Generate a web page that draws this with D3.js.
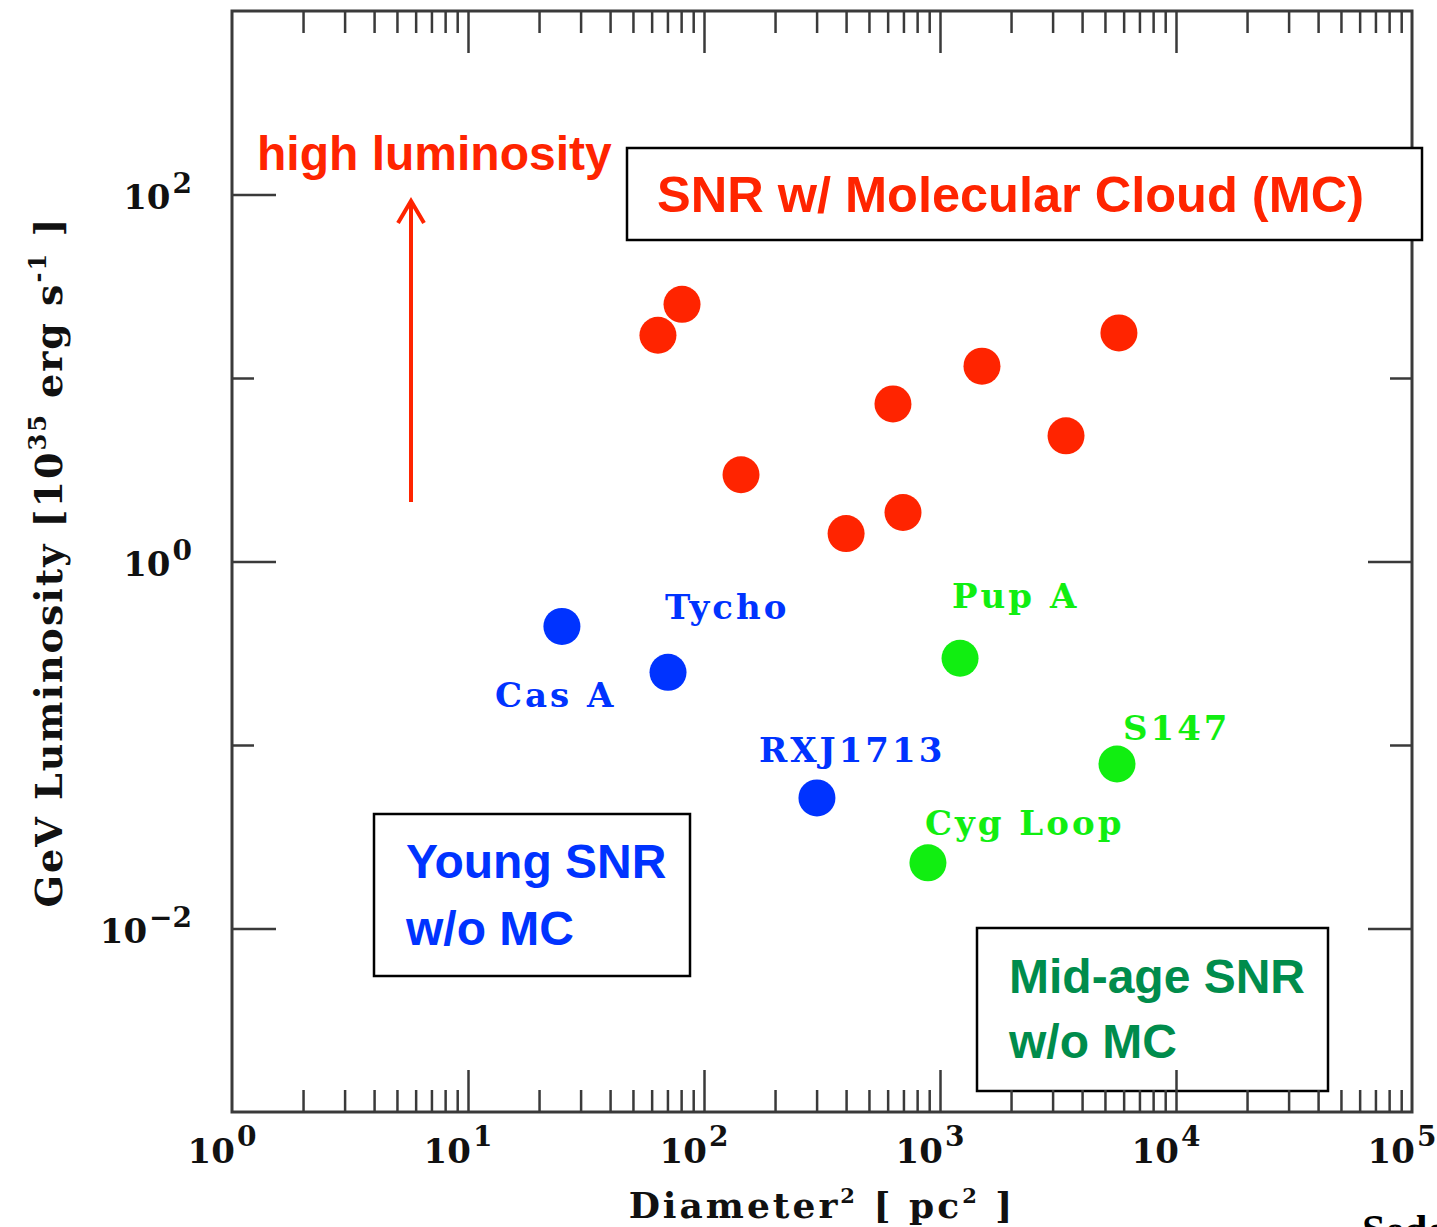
<!DOCTYPE html>
<html lang="en">
<head>
<meta charset="utf-8">
<script src="https://d3js.org/d3.v7.min.js"></script>
<style>
  body { margin: 0; background: #fff; }
  svg { display: block; }
  .pg { font-family: "DejaVu Serif", serif; font-weight: bold; }
  .sans { font-family: "Liberation Sans", Arial, sans-serif; font-weight: bold; }
</style>
</head>
<body>
<svg id="chart" width="1437" height="1227"></svg>
<script>
// SNRs interacting with molecular clouds (no labels)
var mcDiam2 = [63.8, 80.7, 143.5, 400, 632, 697, 1506, 3420, 5730];
var mcLum   = [17.1, 25.2, 2.97, 1.42, 7.22, 1.85, 11.6, 4.84, 17.6];

// young SNRs without MC
var youngNames = ["Cas A", "Tycho", "RXJ1713"];
var youngDiam2 = [25.0, 70.4, 301];
var youngLum   = [0.443, 0.249, 0.0515];

// mid-age SNRs without MC
var midNames = ["Pup A", "S147", "Cyg Loop"];
var midDiam2 = [1216, 5623, 889];
var midLum   = [0.297, 0.0788, 0.0228];

var xDecades = [0, 1, 2, 3, 4, 5];
var yDecades = [-3, -2, -1, 0, 1, 2, 3];

var svg = d3.select("#chart");
var pLeft = 232, pRight = 1412, pTop = 11, pBottom = 1112;

var x = d3.scaleLog().domain([1, 1e5]).range([pLeft, pRight]);
var y = d3.scaleLog().domain([1e-3, 1e3]).range([pBottom, pTop]);

var red = "#ff2400", blue = "#0033ff", lime = "#11ee11", green = "#008c4c";
var axisCol = "#3a3a3a";

// ---- frame and y ticks
svg.append("rect")
    .attr("x", pLeft).attr("y", pTop)
    .attr("width", pRight - pLeft).attr("height", pBottom - pTop)
    .attr("fill", "none").attr("stroke", axisCol).attr("stroke-width", 3);

var yTickVals = yDecades.slice(1, -1).map(function (e) { return Math.pow(10, e); });

function yTicks(axisFn, xpos) {
    var g = svg.append("g")
        .attr("transform", "translate(" + xpos + ",0)")
        .call(axisFn(y).tickValues(yTickVals).tickFormat(""));
    g.select(".domain").remove();
    g.selectAll(".tick line")
        .attr("stroke", axisCol).attr("stroke-width", 2.5)
        .attr("x2", function (d) {
            var big = Math.round(Math.log10(d)) % 2 === 0;
            var len = big ? 44 : 22;
            return axisFn === d3.axisLeft ? len : -len;
        });
}
yTicks(d3.axisLeft, pLeft);
yTicks(d3.axisRight, pRight);

// y labels
var yLab = svg.append("g").attr("class", "pg");
yDecades.filter(function (e) { return e % 2 === 0 && Math.abs(e) < 3; }).forEach(function (e) {
    var t = yLab.append("text")
        .attr("x", 192).attr("y", y(Math.pow(10, e)) + 14)
        .attr("text-anchor", "end").attr("fill", "#111").attr("font-size", 34);
    t.append("tspan").text("10");
    t.append("tspan").attr("dy", -16).attr("dx", 2).attr("font-size", 28)
        .text(e < 0 ? "\u2212" + (-e) : String(e));
});

// ---- boxes (drawn before x ticks so ticks sit on top)
function box(x0, y0, x1, y1) {
    svg.append("rect")
        .attr("x", x0).attr("y", y0).attr("width", x1 - x0).attr("height", y1 - y0)
        .attr("fill", "#fff").attr("stroke", "#000").attr("stroke-width", 2.5);
}
box(627, 148, 1422, 240);
box(374, 814, 690, 976);
box(977, 928, 1328, 1091);

// ---- x ticks, bottom and top
var xTickVals = [];
xDecades.forEach(function (e) {
    for (var m = 1; m <= 9; m++) {
        var v = m * Math.pow(10, e);
        if (v > 1 && v < 1e5) xTickVals.push(v);
    }
});

function xTicks(axisFn, ypos) {
    var g = svg.append("g")
        .attr("transform", "translate(0," + ypos + ")")
        .call(axisFn(x).tickValues(xTickVals).tickFormat(""));
    g.select(".domain").remove();
    g.selectAll(".tick line")
        .attr("stroke", axisCol).attr("stroke-width", 2.5)
        .attr("y2", function (d) {
            var l10 = Math.log10(d);
            var len = Math.abs(l10 - Math.round(l10)) < 1e-9 ? 42 : 22;
            return axisFn === d3.axisBottom ? -len : len;
        });
}
xTicks(d3.axisBottom, pBottom);
xTicks(d3.axisTop, pTop);

var xLab = svg.append("g").attr("class", "pg");
xDecades.forEach(function (e) {
    var t = xLab.append("text")
        .attr("x", x(Math.pow(10, e)) - 10).attr("y", 1163)
        .attr("text-anchor", "middle").attr("fill", "#111").attr("font-size", 34);
    t.append("tspan").text("10");
    t.append("tspan").attr("dy", -17).attr("dx", 2).attr("font-size", 28).text(String(e));
});

// ---- axis titles
var xt = svg.append("text").attr("class", "pg")
    .attr("x", 822).attr("y", 1218).attr("text-anchor", "middle")
    .attr("fill", "#111").attr("font-size", 36).attr("letter-spacing", 3);
xt.append("tspan").text("Diameter");
xt.append("tspan").attr("dy", -15).attr("font-size", 21).text("2");
xt.append("tspan").attr("dy", 15).text(" [ pc");
xt.append("tspan").attr("dy", -15).attr("font-size", 21).text("2");
xt.append("tspan").attr("dy", 15).text(" ]");

var yt = svg.append("text").attr("class", "pg")
    .attr("transform", "translate(62,562) rotate(-90)")
    .attr("text-anchor", "middle").attr("fill", "#111").attr("font-size", 38).attr("letter-spacing", 2);
yt.append("tspan").text("GeV Luminosity [10");
yt.append("tspan").attr("dy", -16).attr("font-size", 24).text("35");
yt.append("tspan").attr("dy", 16).text(" erg s");
yt.append("tspan").attr("dy", -16).attr("font-size", 24).text("-1");
yt.append("tspan").attr("dy", 16).text(" ]");

// ---- points
var r = 18.5;
svg.append("g").selectAll("circle").data(mcDiam2).join("circle")
    .attr("cx", function (d) { return x(d); })
    .attr("cy", function (d, i) { return y(mcLum[i]); })
    .attr("r", r).attr("fill", red);

svg.append("g").selectAll("circle").data(youngDiam2).join("circle")
    .attr("cx", function (d) { return x(d); })
    .attr("cy", function (d, i) { return y(youngLum[i]); })
    .attr("r", r).attr("fill", blue);

svg.append("g").selectAll("circle").data(midDiam2).join("circle")
    .attr("cx", function (d) { return x(d); })
    .attr("cy", function (d, i) { return y(midLum[i]); })
    .attr("r", r).attr("fill", lime);

// label offsets from the point centre
var youngOff = [[-67, 81], [-3, -53], [-58, -36]];
var midOff = [[-8, -50], [6, -24], [-3, -28]];

svg.append("g").attr("class", "pg").selectAll("text").data(youngNames).join("text")
    .attr("x", function (d, i) { return x(youngDiam2[i]) + youngOff[i][0]; })
    .attr("y", function (d, i) { return y(youngLum[i]) + youngOff[i][1]; })
    .attr("fill", blue).attr("font-size", 34).attr("letter-spacing", 3)
    .text(function (d) { return d; });

svg.append("g").attr("class", "pg").selectAll("text").data(midNames).join("text")
    .attr("x", function (d, i) { return x(midDiam2[i]) + midOff[i][0]; })
    .attr("y", function (d, i) { return y(midLum[i]) + midOff[i][1]; })
    .attr("fill", lime).attr("font-size", 34).attr("letter-spacing", 3)
    .text(function (d) { return d; });

// ---- annotations
var ann = svg.append("g").attr("class", "sans").attr("font-size", 48);
ann.append("text").attr("x", 257).attr("y", 170).attr("fill", red).text("high luminosity");
ann.append("text").attr("x", 657).attr("y", 212).attr("fill", red).attr("font-size", 50.5)
    .text("SNR w/ Molecular Cloud (MC)");
ann.append("text").attr("x", 406).attr("y", 878).attr("fill", blue).text("Young SNR");
ann.append("text").attr("x", 406).attr("y", 945).attr("fill", blue).text("w/o MC");
ann.append("text").attr("x", 1009).attr("y", 993).attr("fill", green).text("Mid-age SNR");
ann.append("text").attr("x", 1009).attr("y", 1058).attr("fill", green).text("w/o MC");

// arrow
svg.append("line").attr("x1", 411).attr("y1", 502).attr("x2", 411).attr("y2", 201)
    .attr("stroke", red).attr("stroke-width", 4);
svg.append("path").attr("d", "M398,223 L411,201 L424,223")
    .attr("fill", "none").attr("stroke", red).attr("stroke-width", 4);

// cut-off caption at the bottom right
svg.append("text").attr("x", 1362).attr("y", 1244)
    .attr("font-family", "Liberation Serif, serif").attr("font-weight", "bold")
    .attr("font-size", 42).attr("fill", "#000").text("Sedov");
</script>
</body>
</html>
